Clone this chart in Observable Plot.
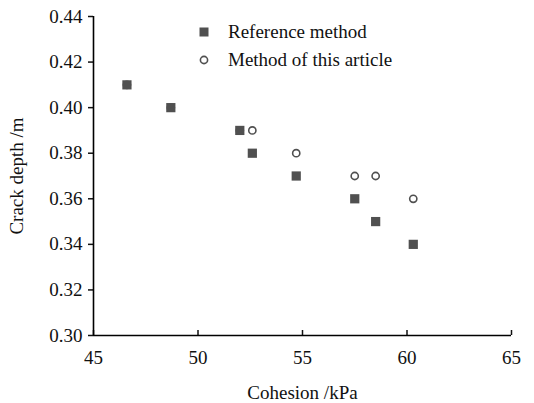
<!DOCTYPE html>
<html>
<head>
<meta charset="utf-8">
<script src="https://cdn.jsdelivr.net/npm/d3@7"></script>
<script src="https://cdn.jsdelivr.net/npm/@observablehq/plot@0.6"></script>
<style>
  html, body { margin: 0; padding: 0; background: #fff; }
  #wrap { position: relative; width: 534px; height: 403px; font-family: "Liberation Serif", "Times New Roman", serif; }
  #wrap svg text { font-family: "Liberation Serif", "Times New Roman", serif !important; font-size: 19px !important; font-variant: normal !important; }
  .legend { position: absolute; left: 196px; font-size: 19px; color: #111; display: flex; align-items: center; }
  .legend svg { margin-right: 16px; }
</style>
</head>
<body>
<div id="wrap"></div>
<script>
// Data
const cohesion = [46.6, 48.7, 52.0, 52.6, 54.7, 57.5, 58.5, 60.3];
const referenceDepth = [0.41, 0.40, 0.39, 0.38, 0.37, 0.36, 0.35, 0.34];
const articleDepth = [0.41, 0.40, 0.39, 0.39, 0.38, 0.37, 0.37, 0.36];
const seriesNames = ["Reference method", "Method of this article"];
const xTicks = [45, 50, 55, 60, 65];
const yTicks = [0.30, 0.32, 0.34, 0.36, 0.38, 0.40, 0.42, 0.44];

const refData = cohesion.map((c, i) => ({c, d: referenceDepth[i]}));
const artData = cohesion.map((c, i) => ({c, d: articleDepth[i]}));

const markColor = "#505050";
const serif = "'Liberation Serif', 'Times New Roman', serif";

const chart = Plot.plot({
  width: 534,
  height: 403,
  marginLeft: 93,
  marginRight: 23,
  marginTop: 16,
  marginBottom: 68,
  style: {fontFamily: serif, fontSize: "19px", color: "#111", background: "#fff"},
  x: {domain: [45, 65]},
  y: {domain: [0.30, 0.44]},
  marks: [
    Plot.axisX({ticks: xTicks, tickSize: -5, tickPadding: 20, tickFormat: d => String(d), strokeWidth: 1.5,
      fontFamily: serif, fontSize: 19,
      label: "Cohesion /kPa", labelAnchor: "center", labelOffset: 63, labelArrow: "none"}),
    Plot.axisY({ticks: yTicks, tickSize: 5, tickPadding: 6, tickFormat: d => d.toFixed(2), strokeWidth: 1.5,
      fontFamily: serif, fontSize: 19,
      label: "Crack depth /m", labelAnchor: "center", labelOffset: 84, labelArrow: "none"}),
    Plot.ruleX([45], {stroke: "#000", strokeWidth: 1.6}),
    Plot.ruleY([0.30], {stroke: "#000", strokeWidth: 1.6}),
    Plot.dot(artData, {x: "c", y: "d", r: 3.6, stroke: markColor, strokeWidth: 1.6, fill: "none"}),
    Plot.dot(refData, {x: "c", y: "d", symbol: "square", r: 5.2, fill: markColor, stroke: "none"})
  ]
});

const wrap = document.getElementById("wrap");
wrap.appendChild(chart);

// Legend (HTML overlay)
const items = [
  {name: seriesNames[0], top: 21, sym: `<svg width="16" height="16"><rect x="3.5" y="3.5" width="9" height="9" fill="${markColor}"/></svg>`},
  {name: seriesNames[1], top: 49, sym: `<svg width="16" height="16"><circle cx="8" cy="8" r="3.6" fill="none" stroke="${markColor}" stroke-width="1.6"/></svg>`}
];
for (const it of items) {
  const div = document.createElement("div");
  div.className = "legend";
  div.style.top = it.top + "px";
  div.innerHTML = it.sym + `<span>${it.name}</span>`;
  wrap.appendChild(div);
}
</script>
</body>
</html>
